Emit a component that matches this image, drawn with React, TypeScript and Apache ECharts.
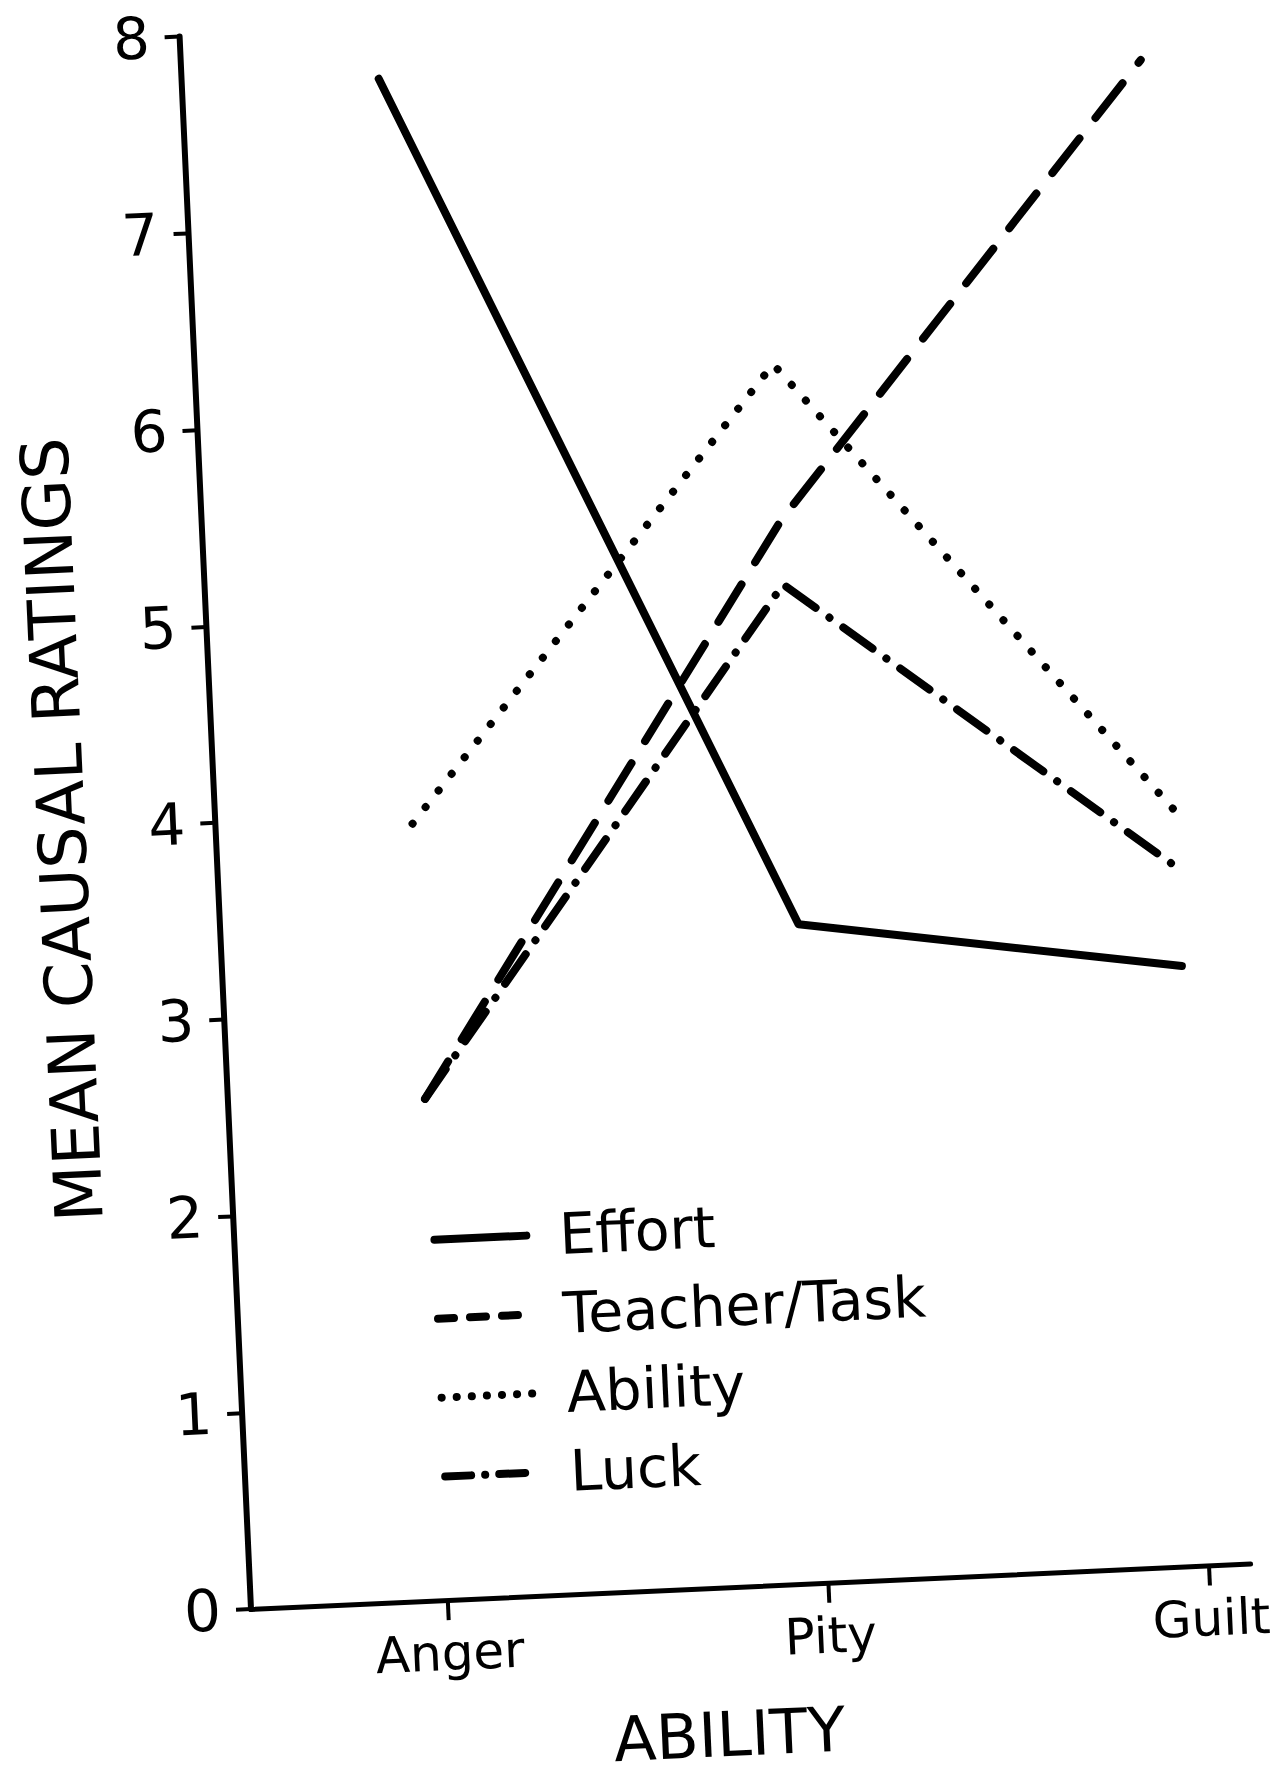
import React, { useEffect, useRef } from "react";
import * as echarts from "echarts";

const categories = ["Anger", "Pity", "Guilt"];
const seriesNames = ["Effort", "Teacher/Task", "Ability", "Luck"];
const effort = [7.74, 3.35, 3.05];
const teacherTask = [2.55, 5.4, 7.66];
const ability = [3.95, 6.2, 3.84];
const luck = [2.55, 5.08, 3.55];
const yTitle = "MEAN CAUSAL RATINGS";
const xTitle = "ABILITY";

const FONT = "DejaVu Sans";

export default function App() {
  const ref = useRef<HTMLDivElement>(null);
  useEffect(() => {
    const chart = echarts.init(ref.current!, null, { renderer: "svg" });
    const pts = (arr: number[]) => arr.map((v, i) => [i, v]);
    const seriesDash: any[] = ["solid", [44, 26], [0.1, 21], [36, 17, 0.1, 17]];
    const legendDash: any[] = ["solid", [16, 16], [0.1, 15], [26, 14, 0.1, 14]];
    const widths = [8, 8, 8, 8];
    const values = [effort, teacherTask, ability, luck];
    chart.setOption({
      animation: false,
      backgroundColor: "transparent",
      textStyle: { fontFamily: FONT, color: "#000" },
      grid: { left: 251, top: 35, width: 1016, height: 1574, containLabel: false },
      legend: {
        orient: "vertical",
        left: 447,
        top: 1220,
        padding: 0,
        itemWidth: 92,
        itemHeight: 14,
        itemGap: 22,
        selectedMode: false,
        textStyle: { fontFamily: FONT, fontSize: 57, color: "#000", lineHeight: 57, padding: [0, 0, 0, 28] },
        data: seriesNames.map((name, i) => ({
          name,
          itemStyle: { opacity: 0 },
          lineStyle: { color: "#000", width: widths[i], type: legendDash[i], cap: "round" },
        })),
      },
      xAxis: {
        type: "value",
        min: -0.517,
        max: 2.109,
        splitLine: { show: false },
        axisLine: { show: true, onZero: false, lineStyle: { color: "#000", width: 5 } },
        axisTick: { show: true, customValues: [0, 1, 2], length: 20, lineStyle: { color: "#000", width: 4 } },
        axisLabel: {
          customValues: [0, 1, 2],
          formatter: (v: number) => categories[Math.round(v)] ?? "",
          fontSize: 50,
          margin: 28,
          color: "#000",
          fontFamily: FONT,
        },
        name: xTitle,
        nameLocation: "middle",
        nameGap: 116,
        nameTextStyle: { fontSize: 62, color: "#000", fontFamily: FONT, padding: [0, 56, 0, 0] },
      },
      yAxis: {
        type: "value",
        min: 0,
        max: 8,
        interval: 1,
        splitLine: { show: false },
        axisLine: { show: true, onZero: false, lineStyle: { color: "#000", width: 6 } },
        axisTick: { show: true, length: 15, lineStyle: { color: "#000", width: 4 } },
        axisLabel: { fontSize: 58, margin: 30, color: "#000", fontFamily: FONT },
        name: yTitle,
        nameLocation: "middle",
        nameGap: 120,
        nameTextStyle: { fontSize: 66, color: "#000", fontFamily: FONT },
      },
      series: seriesNames.map((name, i) => ({
        name,
        type: "line",
        data: pts(values[i]),
        symbol: "none",
        lineStyle: { color: "#000", width: widths[i], type: seriesDash[i], cap: "round", join: "round" },
        itemStyle: { color: "#000" },
      })),
    });
    return () => chart.dispose();
  }, []);
  return (
    <div
      style={{
        position: "absolute",
        left: 0,
        top: 0,
        width: 1272,
        height: 1790,
        overflow: "hidden",
        background: "#fff",
      }}
    >
      <div
        ref={ref}
        style={{
          width: 1272,
          height: 1850,
          transform: "rotate(-2.6deg)",
          transformOrigin: "251px 1609px",
        }}
      />
    </div>
  );
}
